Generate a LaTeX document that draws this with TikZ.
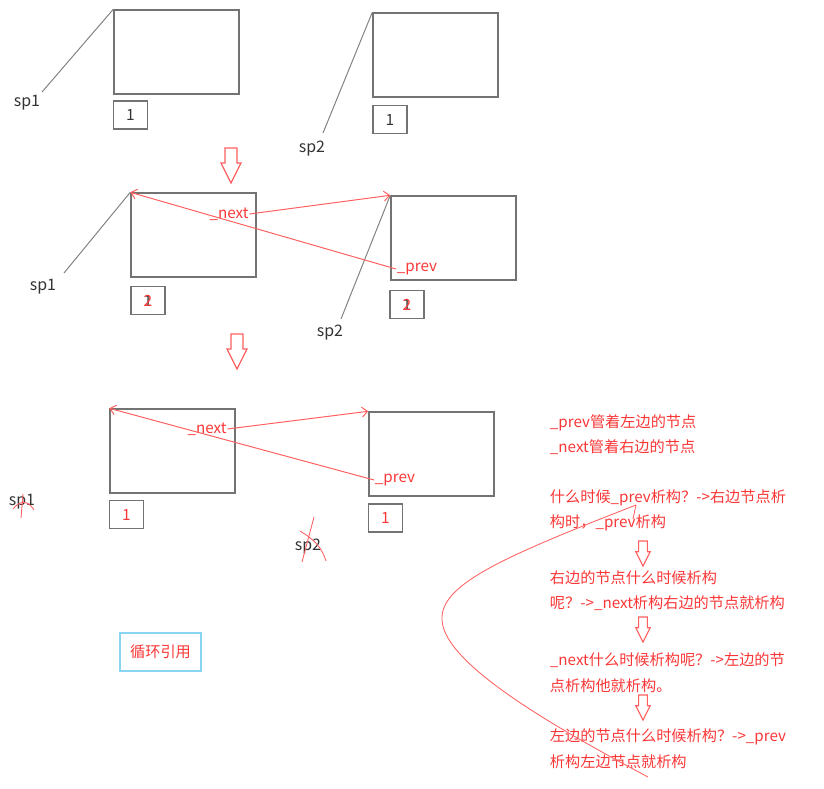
\documentclass[tikz,border=0pt]{standalone}
\usepackage{fontspec}
\newfontfamily\cjk{Noto Sans CJK SC}
\usepackage{tikz}
\usetikzlibrary{arrows.meta}
\usepackage{xcolor}
\definecolor{penred}{RGB}{255,95,95}
\definecolor{txtred}{RGB}{250,55,55}
\definecolor{boxgray}{RGB}{115,115,115}
\definecolor{lblgray}{RGB}{50,50,50}
\definecolor{frameblue}{RGB}{135,212,245}

\tikzset{
  objbox/.style={draw=boxgray,line width=1pt,minimum width=3.125cm,minimum height=2.1cm,inner sep=0pt},
  cntbox/.style={draw=boxgray,line width=1pt,minimum width=0.84cm,minimum height=0.7cm,inner sep=0pt,
    font=\cjk\fontsize{11}{12}\selectfont},
  ptrlbl/.style={font=\cjk\fontsize{11.3}{12}\selectfont,text=lblgray,inner sep=0.5pt},
  redlbl/.style={font=\cjk\fontsize{10.8}{12}\selectfont,text=txtred,inner sep=0.5pt},
  note/.style={redlbl,anchor=west},
  ptrline/.style={draw=boxgray!90,line width=0.7pt},
  refline/.style={draw=penred,line width=0.7pt,-{Straight Barb[length=4pt,width=7pt]}},
  penmark/.style={draw=penred,line width=0.6pt},
  hollowdown/.pic={\draw[penred,line width=0.8pt] (-6,0) -- (6,0) -- (6,15) -- (10,15) -- (0,35)
    -- (-10,15) -- (-6,15) -- cycle;}
}

\begin{document}
\begin{tikzpicture}[x=0.025cm,y=-0.025cm]
  \useasboundingbox (0,0) rectangle (824,789);

  % step 1: two separate objects
  \node[objbox] (a1) at (176.5,52) {};
  \node[cntbox,text=lblgray] (n1a) at (130.5,115) {1};
  \node[objbox] (b1) at (435.5,55) {};
  \node[cntbox,text=lblgray] (n1b) at (390,119.5) {1};
  \node[ptrlbl] (sp1a) at (27,103) {sp1};
  \node[ptrlbl] (sp2a) at (312,149) {sp2};
  \coordinate (s1a) at (42,92);
  \coordinate (s2a) at (323,133);
  \draw[ptrline] (s1a) -- (a1.north west);
  \draw[ptrline] (s2a) -- (b1.north west);
  \pic at (231,148) {hollowdown};

  % step 2: linked to each other
  \node[objbox] (a2) at (193.5,235) {};
  \node[cntbox,text=lblgray] (n2a) at (148,300.5) {1};
  \node[redlbl,font=\cjk\fontsize{11}{12}\selectfont] at (n2a) {2};
  \node[objbox] (b2) at (453.5,238) {};
  \node[cntbox,text=lblgray] (n2b) at (407,304.5) {1};
  \node[redlbl,font=\cjk\fontsize{11}{12}\selectfont] at (n2b) {2};
  \node[ptrlbl] (sp1b) at (43,287) {sp1};
  \node[ptrlbl] (sp2b) at (330,333) {sp2};
  \coordinate (s1b) at (64,273);
  \coordinate (s2b) at (341,319);
  \draw[ptrline] (s1b) -- (a2.north west);
  \draw[ptrline] (s2b) -- (b2.north west);
  \node[redlbl] (next2) at (229,214) {\_next};
  \node[redlbl] (prev2) at (417,269) {\_prev};
  \draw[refline] (next2.east) -- (b2.north west);
  \draw[refline] (prev2.west) -- (a2.north west);
  \pic at (237,334) {hollowdown};

  % step 3: sp1, sp2 gone
  \node[objbox] (a3) at (172.5,451) {};
  \node[cntbox,text=txtred] (n3a) at (126.5,514.5) {1};
  \node[objbox] (b3) at (431.5,454) {};
  \node[cntbox,text=txtred] (n3b) at (385.5,518) {1};
  \node[ptrlbl] (sp1c) at (22,502) {sp1};
  \node[ptrlbl] (sp2c) at (308,547) {sp2};
  \draw[penmark] (23,494) -- (21,518);
  \draw[penmark] (13,509) .. controls (20,500) and (28,500) .. (34,510);
  \draw[penmark] (314,517) -- (302,562);
  \draw[penmark] (300,531) .. controls (315,540) and (322,548) .. (326,561);
  \node[redlbl] (next3) at (207,429) {\_next};
  \node[redlbl] (prev3) at (395,480) {\_prev};
  \draw[refline] (next3.east) -- (b3.north west);
  \draw[refline] (prev3.west) -- (a3.north west);

  \node[draw=frameblue,line width=0.8pt,minimum width=2.025cm,minimum height=0.95cm,
    font=\cjk\fontsize{10.8}{12}\selectfont,text=txtred] (cyc) at (160.5,652) {循环引用};

  % explanation on the right
  \foreach \y/\txt [count=\i] in {423/{\_prev管着左边的节点}, 447/{\_next管着右边的节点},
      498/{什么时候\_prev析构？->右边节点析}, 523/{构时，\_prev析构},
      578/{右边的节点什么时候析构}, 603/{呢？->\_next析构右边的节点就析构},
      660/{\_next什么时候析构呢？->左边的节}, 686/{点析构他就析构。},
      737/{左边的节点什么时候析构？->\_prev}, 762/{析构左边节点就析构}}
    \node[note] (t\i) at (549,\y) {\txt};
  \foreach \y in {541,617,695}
    \pic[scale=0.72] at (643,\y) {hollowdown};

  % loop drawn by hand
  \draw[penmark] (636,505) -- (633,519);
  \draw[penmark] (636,505) .. controls (500,558) and (440,585) .. (442,620)
    .. controls (444,665) and (560,730) .. (648,777);
\end{tikzpicture}
\end{document}
